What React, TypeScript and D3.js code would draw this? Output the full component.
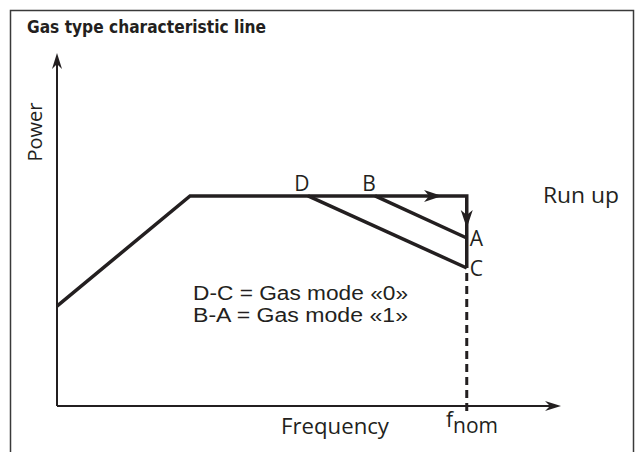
import * as d3 from 'd3';
import React, { useEffect, useRef } from 'react';

// chart data (abstract units, 0..100 on both axes)
const freqDomain = [0, 100];
const powerDomain = [0, 100];
const runUpFreq = [0, 26.4, 81.3, 81.3];
const runUpPower = [28.3, 59.5, 59.5, 39.1];
const modeNames = ['D-C', 'B-A'];
const modeStartFreq = [49.8, 63.1];
const modeStartPower = [59.5, 59.5];
const modeEndFreq = [81.3, 81.3];
const modeEndPower = [39.1, 47.6];
const startLabels = ['D', 'B'];
const endLabels = ['C', 'A'];
const legendLines = ['D-C = Gas mode «0»', 'B-A = Gas mode «1»'];
const flowArrowFreq = 76.4;
const downArrowPower = 50.4;

const W = 639;
const H = 452;
const INK = '#231f20';
const SANS = '"Open Sans", "Noto Sans", Arial, sans-serif';
const TIGHT = '"Liberation Sans", Arial, sans-serif';

export default function App() {
  const ref = useRef<SVGSVGElement>(null);

  useEffect(() => {
    const svg = d3.select(ref.current);
    svg.selectAll('*').remove();

    // set the ranges
    const x = d3.scaleLinear().domain(freqDomain).range([57, 561]);
    const y = d3.scaleLinear().domain(powerDomain).range([406, 53]);

    // frame
    svg.append('rect')
      .attr('x', 10.5).attr('y', 10.5)
      .attr('width', 623).attr('height', H + 20)
      .attr('fill', 'none').attr('stroke', '#3a3a3a').attr('stroke-width', 1.5);

    // title
    svg.append('text')
      .attr('x', 27).attr('y', 33)
      .attr('font-family', '"Liberation Sans Narrow", "DejaVu Sans Condensed", "Arial Narrow", sans-serif')
      .attr('font-weight', 'bold').attr('font-size', 18)
      .attr('textLength', 239).attr('lengthAdjust', 'spacingAndGlyphs')
      .attr('fill', INK)
      .text('Gas type characteristic line');

    const arrowHead = (tx: number, ty: number, angle: number, len = 18, half = 6) => {
      svg.append('path')
        .attr('d', `M0,0 L${-len},${-half} L${-len + 5},0 L${-len},${half} Z`)
        .attr('transform', `translate(${tx},${ty}) rotate(${angle})`)
        .attr('fill', INK);
    };

    // axes
    svg.append('line')
      .attr('x1', x(0)).attr('x2', x(0))
      .attr('y1', y(0)).attr('y2', y(100) + 8)
      .attr('stroke', INK).attr('stroke-width', 2);
    arrowHead(x(0), y(100), -90, 16, 5);
    svg.append('line')
      .attr('x1', x(0)).attr('x2', x(100) - 8)
      .attr('y1', y(0)).attr('y2', y(0))
      .attr('stroke', INK).attr('stroke-width', 2);
    arrowHead(x(100), y(0), 0, 16, 5);

    // fnom dashed drop line
    svg.append('line')
      .attr('x1', x(runUpFreq[3])).attr('x2', x(runUpFreq[3]))
      .attr('y1', y(runUpPower[3]) + 5).attr('y2', y(0) + 10)
      .attr('stroke', INK).attr('stroke-width', 3)
      .attr('stroke-dasharray', '8,5');

    // run up line
    const line = d3.line<number>()
      .x((_, i) => x(runUpFreq[i]))
      .y(d => d);
    svg.append('path')
      .datum(runUpPower.map(p => y(p)))
      .attr('d', line)
      .attr('fill', 'none').attr('stroke', INK)
      .attr('stroke-width', 3.5).attr('stroke-linejoin', 'miter');

    arrowHead(x(flowArrowFreq), y(runUpPower[1]), 0);
    arrowHead(x(runUpFreq[3]), y(downArrowPower), 90);

    // gas mode lines
    modeNames.forEach((_, i) => {
      svg.append('line')
        .attr('x1', x(modeStartFreq[i])).attr('y1', y(modeStartPower[i]))
        .attr('x2', x(modeEndFreq[i])).attr('y2', y(modeEndPower[i]))
        .attr('stroke', INK).attr('stroke-width', 3.5);
      svg.append('text')
        .attr('x', x(modeStartFreq[i]) - 6).attr('y', y(modeStartPower[i]) - 5)
        .attr('text-anchor', 'middle')
        .attr('font-family', SANS).attr('font-size', 21).attr('fill', INK)
        .text(startLabels[i]);
      svg.append('text')
        .attr('x', x(modeEndFreq[i]) + 3).attr('y', y(modeEndPower[i]) + 8)
        .attr('font-family', SANS).attr('font-size', 21).attr('fill', INK)
        .text(endLabels[i]);
    });

    // Run up label
    svg.append('text')
      .attr('x', 543).attr('y', 203)
      .attr('font-family', SANS).attr('font-size', 22).attr('fill', INK)
      .attr('textLength', 76).attr('lengthAdjust', 'spacingAndGlyphs')
      .text('Run up');

    // legend
    legendLines.forEach((t, i) => {
      svg.append('text')
        .attr('x', 193).attr('y', 300 + i * 22)
        .attr('font-family', TIGHT).attr('font-size', 19.5).attr('fill', INK)
        .attr('textLength', 215).attr('lengthAdjust', 'spacingAndGlyphs')
        .text(t);
    });

    // axis titles
    svg.append('text')
      .attr('transform', `translate(42,132) rotate(-90)`)
      .attr('text-anchor', 'middle')
      .attr('font-family', SANS).attr('font-size', 20).attr('fill', INK)
      .attr('textLength', 59).attr('lengthAdjust', 'spacingAndGlyphs')
      .text('Power');
    svg.append('text')
      .attr('x', 281).attr('y', 434)
      .attr('font-family', SANS).attr('font-size', 21).attr('fill', INK)
      .attr('textLength', 108).attr('lengthAdjust', 'spacingAndGlyphs')
      .text('Frequency');
    const fnom = svg.append('text')
      .attr('x', 446).attr('y', 427)
      .attr('font-family', SANS).attr('font-size', 21).attr('fill', INK);
    fnom.append('tspan').text('f');
    fnom.append('tspan').attr('dy', 6).text('nom');
  }, []);

  return (
    <svg ref={ref} width={W} height={H}
      style={{ position: 'absolute', left: 0, top: 0, background: '#fff' }} />
  );
}
